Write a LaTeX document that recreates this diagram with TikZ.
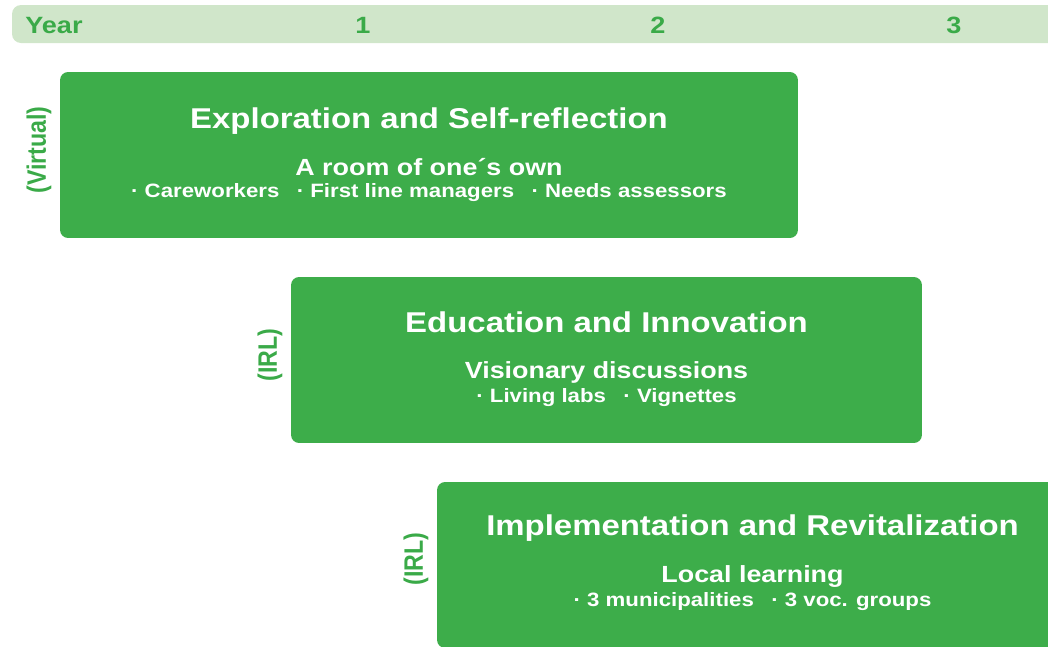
\documentclass[tikz,border=0pt]{standalone}
\usepackage{fontspec}
\setmainfont{Liberation Sans}
\newfontfamily\wide[FakeStretch=1.15]{Liberation Sans}
\definecolor{boxgreen}{RGB}{61,173,74}
\definecolor{headbg}{RGB}{208,230,202}
\definecolor{labgreen}{RGB}{58,170,72}
\tikzset{
  phase/.style={fill=boxgreen, rounded corners=0.16cm, inner sep=0pt, minimum height=3.32cm},
  ttl/.style={text=white, inner sep=0pt, anchor=base, font=\wide\bfseries\fontsize{16.3}{18}\selectfont},
  sub/.style={text=white, inner sep=0pt, anchor=base, font=\wide\bfseries\fontsize{13.3}{15}\selectfont},
  items/.style={text=white, inner sep=0pt, anchor=base, font=\wide\bfseries\fontsize{11}{13}\selectfont},
  mode/.style={text=labgreen, inner sep=0pt, rotate=90, font=\bfseries\fontsize{13.2}{15}\selectfont},
  yr/.style={text=labgreen, inner sep=0pt, anchor=base, font=\wide\bfseries\fontsize{13.4}{15}\selectfont},
  hdr/.style={fill=headbg, rounded corners=0.18cm}
}
\newcommand{\gapsep}{\hspace{0.9em}}
\begin{document}
\begin{tikzpicture}[x=0.02cm, y=-0.02cm]
\useasboundingbox (0,0) rectangle (1048,646);
\clip (0,0) rectangle (1048,646);
% header bar
\fill[hdr] (12,5) rectangle (1100,43);
\node[yr, anchor=base west] (year) at (25,33) {Year};
\node[yr] (y1) at (363,33) {1};
\node[yr] (y2) at (658,33) {2};
\node[yr] (y3) at (954,33) {3};
% phase 1
\node[phase, minimum width=14.76cm] (b1) at (429,155) {};
\node[ttl] (t1) at (429,128) {Exploration and Self-reflection};
\node[sub] (s1) at (429,175) {A room of one´s own};
\node[items] (i1) at (429,197) {· Careworkers\gapsep · First line managers\gapsep · Needs assessors};
\node[mode] (m1) at (39,150) {\scalebox{1}[1.15]{(Virtual)}};
% phase 2
\node[phase, minimum width=12.62cm] (b2) at (606.5,360) {};
\node[ttl] (t2) at (606.5,332) {Education and Innovation};
\node[sub] (s2) at (606.5,378) {Visionary discussions};
\node[items] (i2) at (606.5,402) {· Living labs\gapsep · Vignettes};
\node[mode] (m2) at (270,355) {\scalebox{1}[1.15]{(IRL)}};
% phase 3
\node[phase, minimum width=12.62cm] (b3) at (752.5,565) {};
\node[ttl] (t3) at (752.5,535) {Implementation and Revitalization};
\node[sub] (s3) at (752.5,582) {Local learning};
\node[items] (i3) at (752.5,606) {· 3 municipalities\gapsep · 3 voc. groups};
\node[mode] (m3) at (416,559) {\scalebox{1}[1.15]{(IRL)}};
\end{tikzpicture}
\end{document}
